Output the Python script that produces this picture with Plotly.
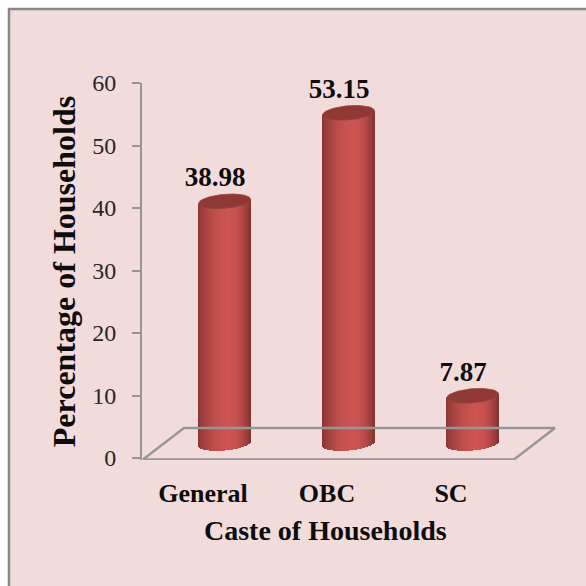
import math
import plotly.graph_objects as go

categories = ["General", "OBC", "SC"]
values = [38.98, 53.15, 7.87]
value_labels = ["38.98", "53.15", "7.87"]
y_ticks = [0, 10, 20, 30, 40, 50, 60]

W = H = 586
L, R, T, B = 142, 556, 83, 460
Y0_PX = 458.0
BG = "#F2DCDB"
GRID = "#969696"
SERIF = "Liberation Serif"
px_per_cat = 124.0
px_per_unit = (Y0_PX - T) / 60.0
x0_px = 203.0


def xd(px):
    return (px - x0_px) / px_per_cat


def yd(px):
    return (Y0_PX - px) / px_per_unit


def dx(px):
    return px / px_per_cat


def dy(px):
    return px / px_per_unit


def mix(c1, c2, t):
    return "rgb(%d,%d,%d)" % tuple(round(a + (b - a) * t) for a, b in zip(c1, c2))


EDGE_L = (132, 52, 50)
EDGE_R = (128, 50, 48)
MID = (204, 84, 81)


def shade(u):
    # u in [0, 1] across the cylinder; highlight at 0.6
    if u < 0.6:
        return mix(EDGE_L, MID, math.sin(u / 0.6 * math.pi / 2) ** 0.75)
    return mix(EDGE_R, MID, math.sin((1 - u) / 0.4 * math.pi / 2) ** 0.75)


fig = go.Figure()

# Floor of the 3D plot
fig.add_trace(go.Scatter(
    x=[xd(143), xd(184), xd(555), xd(514), xd(143)],
    y=[yd(459.5), yd(428), yd(428), yd(459.5), yd(459.5)],
    mode="lines", line=dict(color=GRID, width=2.4), hoverinfo="skip",
    showlegend=False, cliponaxis=False))

BAR_OFFSET = 21.5      # px right of tick position
RX, RY = 26.0, 7.0     # ellipse radii, px
TILT = math.radians(-5)
BASE_PX = 443.5
TOP_BASE_PX = 445.0
base_units = yd(BASE_PX)
top_base_units = yd(TOP_BASE_PX)

for i, v in enumerate(values):
    cx_px = x0_px + px_per_cat * i + BAR_OFFSET
    top_y = top_base_units + v
    xs, bases, heights, widths, colors = [], [], [], [], []
    for k in range(int(2 * RX)):
        off = k + 0.5 - RX
        u = (k + 0.5) / (2 * RX)
        t = off / RX
        tilt_y = off * math.tan(TILT)
        arc = RY * math.sqrt(max(0, 1 - t * t))
        b = base_units - dy(arc + tilt_y)
        xs.append(xd(cx_px + off))
        bases.append(b)
        heights.append(top_y - dy(tilt_y) - b)
        widths.append(dx(1.15))
        colors.append(shade(u))
    fig.add_trace(go.Bar(
        x=xs, y=heights, base=bases, width=widths,
        marker=dict(color=colors, line=dict(width=0)),
        hoverinfo="skip", showlegend=False, cliponaxis=False))

    # Top cap of the cylinder
    ex, ey = [], []
    for d in range(0, 361, 6):
        a = math.radians(d)
        px_x = RX * math.cos(a)
        px_y = RY * math.sin(a)
        ex.append(xd(cx_px + px_x * math.cos(TILT) - px_y * math.sin(TILT)))
        ey.append(top_y - dy(px_x * math.sin(TILT) + px_y * math.cos(TILT)))
    fig.add_trace(go.Scatter(
        x=ex, y=ey, mode="lines", fill="toself", fillcolor="#8F3835",
        line=dict(color="#9A3D3A", width=0.8), hoverinfo="skip",
        showlegend=False, cliponaxis=False))

# Value labels
fig.add_trace(go.Scatter(
    x=[xd(x0_px + px_per_cat * i + 12) for i in range(len(values))],
    y=[v + top_base_units + dy(22) for v in values],
    text=["<b>%s</b>" % s for s in value_labels], mode="text",
    textposition="middle center",
    textfont=dict(family=SERIF, size=27, color="#0d0d0d"),
    hoverinfo="skip", showlegend=False, cliponaxis=False))

fig.update_layout(
    width=W, height=H, autosize=False,
    margin=dict(l=L, r=W - R, t=T, b=H - B, pad=0),
    paper_bgcolor="white", plot_bgcolor=BG,
    barmode="overlay", bargap=0,
    showlegend=False,
    font=dict(family=SERIF),
    xaxis=dict(
        range=[xd(L), xd(R)], tickmode="array",
        tickvals=list(range(len(categories))),
        ticktext=["<b>%s</b>" % c for c in categories],
        showgrid=False, zeroline=False, showline=False, ticks="",
        ticklabelstandoff=15,
        tickfont=dict(family=SERIF, size=26, color="#0d0d0d"),
    ),
    yaxis=dict(
        range=[yd(B), 60], tickmode="array", tickvals=y_ticks,
        showgrid=False, zeroline=False, showline=True,
        linecolor=GRID, linewidth=2, ticks="outside", ticklen=8,
        tickwidth=2, tickcolor=GRID, ticklabelstandoff=11,
        tickfont=dict(family=SERIF, size=24, color="#262626"),
        title=dict(text="<b>Percentage of Households</b>", standoff=7,
                   font=dict(family=SERIF, size=32, color="#0d0d0d")),
    ),
    shapes=[
        dict(type="rect", layer="below", xref="paper", yref="paper",
             x0=(9 - L) / (R - L), x1=(W + 5 - L) / (R - L),
             y0=(B - H - 5) / (B - T), y1=(B - 9) / (B - T),
             fillcolor=BG, line=dict(color="#888888", width=2.5)),
    ],
    annotations=[
        dict(text="<b>Caste of Households</b>", xref="paper", yref="paper",
             x=(325.5 - L) / (R - L), y=(B - 530) / (B - T), xanchor="center",
             yanchor="middle", showarrow=False,
             font=dict(family=SERIF, size=28, color="#0d0d0d")),
    ],
)

fig.write_html(
    "out.html",
    config={"displayModeBar": False},
    post_script="document.body.style.margin='0';document.documentElement.style.overflow='hidden';",
)
